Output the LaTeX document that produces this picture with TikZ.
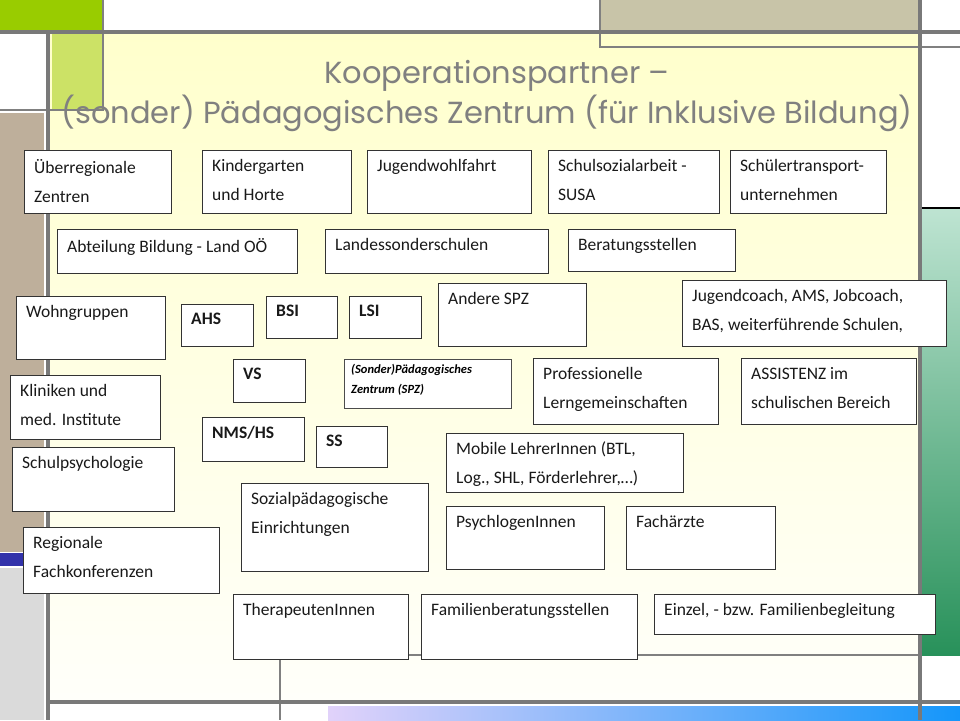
\documentclass[tikz,border=0pt]{standalone}
\usepackage{fontspec}
\setmainfont{Carlito}
\newfontfamily\titlefont{Poppins}
\definecolor{cgreen}{RGB}{153,204,0}
\definecolor{ctan}{RGB}{200,196,168}
\definecolor{ccreamA}{RGB}{255,255,204}
\definecolor{ccreamB}{RGB}{255,255,250}
\definecolor{clgreen}{RGB}{204,226,102}
\definecolor{cbrown}{RGB}{190,175,155}
\definecolor{cblue}{RGB}{50,50,170}
\definecolor{clgrey}{RGB}{218,218,218}
\definecolor{cmintA}{RGB}{190,228,210}
\definecolor{cmintB}{RGB}{40,145,90}
\definecolor{clilac}{RGB}{225,210,250}
\definecolor{csky}{RGB}{20,150,250}
\begin{document}
\begin{tikzpicture}[x=1pt,y=-1pt,
  frame/.style={draw=gray!95!black,line width=4pt},
  box/.style={draw=black!80,line width=0.9pt,fill=white},
  lab/.style={anchor=north west,font=\fontsize{17.5}{29}\selectfont,align=left,inner sep=0pt,text=black!90}]
\useasboundingbox (0,0) rectangle (960,720);
\fill[white] (0,0) rectangle (960,720);
% decorations
\fill[cgreen] (0,0) rectangle (103,30);
\fill[ctan] (600,0) rectangle (918,30);
\shade[top color=ccreamA,bottom color=ccreamB] (50,34) rectangle (918,700);
\fill[clgreen] (52,34) rectangle (103,110);
\fill[cbrown] (0,113) rectangle (44,552);
\fill[cblue] (0,553) rectangle (46,566);
\fill[clgrey] (0,568) rectangle (44,720);
\shade[top color=cmintA,bottom color=cmintB] (922,208) rectangle (960,655);
\draw[line width=1.5pt] (922,208) -- (960,208);
\shade[left color=clilac,right color=csky] (328,706) rectangle (960,720);
\draw[gray,line width=1.5pt] (600,0) -- (600,47) -- (960,47);
\draw[gray,line width=1.5pt] (103,0) -- (103,110) -- (50,110);
\draw[gray,line width=1.5pt] (0,110) -- (50,110);
\draw[gray,line width=1.5pt] (280,620) -- (280,720);
\draw[gray,line width=1.5pt] (280,655) -- (920,655);
\draw[frame] (0,32) -- (960,32);
\draw[frame] (48,32) -- (48,720);
\draw[frame] (920,0) -- (920,720);
\draw[frame] (48,702) -- (960,702);
% title
\node[font=\titlefont\fontsize{30.5}{36}\selectfont,text=gray,anchor=base] (t1) at (497,83) {Kooperationspartner –};
\node[font=\titlefont\fontsize{30.5}{36}\selectfont,text=gray,anchor=base east] (t2) at (916,123) {(sonder) Pädagogisches Zentrum (für Inklusive Bildung)};
% boxes
\newcommand\bx[6]{\node[box,anchor=north west,minimum width={#4-#2},minimum height={#5-#3},inner sep=0pt] (#1) at (#2,#3) {};
  \node[lab] at (#2+10,#3+9) {#6};}
\bx{a1}{24}{150}{171}{213}{Überregionale\\Zentren}
\bx{a2}{202}{150}{351}{213}{Kindergarten\\und Horte}
\bx{a3}{367}{150}{531}{213}{Jugendwohlfahrt}
\bx{a4}{548}{150}{719}{213}{Schulsozialarbeit -\\SUSA}
\bx{a5}{730}{150}{886}{213}{Schülertransport-\\unternehmen}
\bx{b1}{57}{229}{297}{273}{Abteilung Bildung - Land OÖ}
\bx{b2}{325}{229}{548}{273}{Landessonderschulen}
\bx{b3}{568}{229}{735}{271}{Beratungsstellen}
\bx{c1}{16}{296}{165}{359}{Wohngruppen}
\bx{c2}{181}{304}{253}{346}{\textbf{AHS}}
\bx{c3}{266}{296}{337}{338}{\textbf{BSI}}
\bx{c4}{349}{296}{421}{338}{\textbf{LSI}}
\bx{c5}{438}{283}{586}{346}{Andere SPZ}
\bx{c6}{682}{280}{946}{346}{Jugendcoach, AMS, Jobcoach,\\BAS, weiterführende Schulen,}
\bx{d1}{233}{359}{305}{402}{\textbf{VS}}
\node[draw=black!70,line width=0.5pt,fill=white,anchor=north west,minimum width=167,minimum height=49,inner sep=0pt] (spz) at (344,359) {};
\node[anchor=north west,inner sep=0pt,font=\fontsize{12.5}{20}\selectfont\bfseries\itshape,align=left] at (351,364) {(Sonder)Pädagogisches\\Zentrum (SPZ)};
\bx{d2}{533}{358}{718}{424}{Professionelle\\Lerngemeinschaften}
\bx{d3}{741}{358}{916}{424}{ASSISTENZ im\\schulischen Bereich}
\bx{e1}{10}{375}{160}{439}{Kliniken und\\med. Institute}
\bx{e2}{202}{417}{304}{461}{\textbf{NMS/HS}}
\bx{e3}{316}{426}{387}{467}{\textbf{SS}}
\bx{e4}{446}{433}{683}{492}{Mobile LehrerInnen (BTL,\\Log., SHL, Förderlehrer,…)}
\bx{f1}{12}{447}{174}{511}{Schulpsychologie}
\bx{f2}{241}{483}{428}{571}{Sozialpädagogische\\Einrichtungen}
\bx{f3}{446}{506}{604}{569}{PsychlogenInnen}
\bx{f4}{626}{506}{775}{569}{Fachärzte}
\bx{g1}{23}{527}{219}{593}{Regionale\\Fachkonferenzen}
\bx{g2}{233}{594}{408}{659}{TherapeutenInnen}
\bx{g3}{421}{594}{637}{659}{Familienberatungsstellen}
\bx{g4}{654}{594}{935}{634}{Einzel, - bzw. Familienbegleitung}
\end{tikzpicture}
\end{document}
